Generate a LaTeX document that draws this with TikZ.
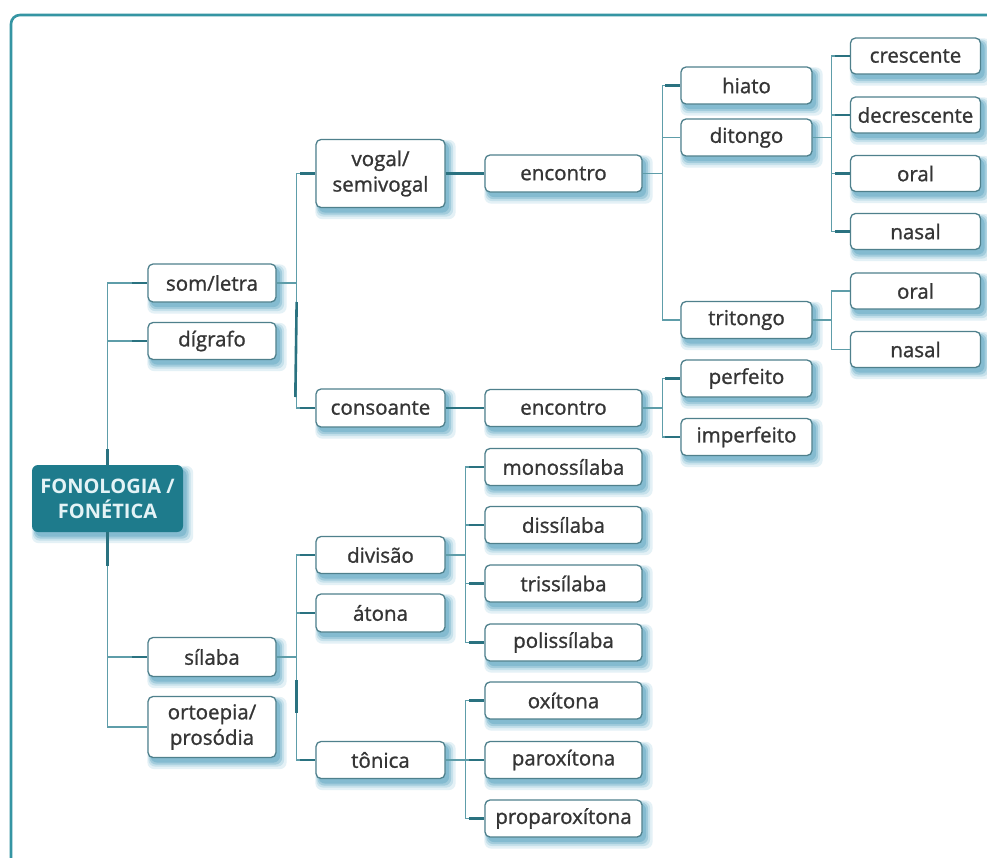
\documentclass[tikz,border=0pt]{standalone}
\usepackage{fontspec}
\setmainfont{Open Sans}
\newfontface\boxfont{Open Sans}[FakeBold=1.1]
\usetikzlibrary{backgrounds}
\definecolor{frameC}{HTML}{3595A3}
\definecolor{lineC}{HTML}{5E9DA9}
\definecolor{stubC}{HTML}{2A7280}
\definecolor{boxC}{HTML}{4F808C}
\definecolor{shA}{HTML}{E4F1F6}
\definecolor{shB}{HTML}{C6E1EB}
\definecolor{shD}{HTML}{A2CCDC}
\definecolor{shE}{HTML}{84BBD0}
\definecolor{txtC}{HTML}{353535}
\definecolor{rootC}{HTML}{1E7B8C}
\definecolor{rootT}{HTML}{E4F3F6}
\begin{document}
\begin{tikzpicture}[x=1pt,y=-1pt,
  box/.style={draw=boxC, line width=1.3pt, rounded corners=5pt, fill=white,
    inner sep=0pt, align=center, text=txtC,
    font=\boxfont\fontsize{20.5}{25.5}\selectfont},
  c1/.style={box, minimum width=128pt},
  c2/.style={box, minimum width=129pt},
  c3/.style={box, minimum width=157pt},
  c4/.style={box, minimum width=131pt},
  c5/.style={box, minimum width=130pt},
  h1/.style={minimum height=37pt},
  rootbox/.style={draw=none, rounded corners=6pt, fill=rootC,
    inner sep=0pt, align=center, text=rootT, minimum width=151pt, minimum height=67pt,
    font=\fontsize{20}{25}\selectfont\bfseries},
  conn/.style={draw=lineC, line width=1.5pt},
  stub/.style={draw=stubC, line width=2.6pt},
  shadowlayer/.style={rounded corners=7pt, draw=none},
  frame/.style={draw=frameC, line width=2.6pt, rounded corners=9pt}]
\useasboundingbox (0,0) rectangle (987,857);

% nodes
\node[rootbox] (fon) at (107.5,498.5) {FONOLOGIA /\\FONÉTICA};
\node[c1, minimum height=38pt] (som) at (212,283) {som/letra};
\node[c1, h1] (dig) at (212,341) {dígrafo};
\node[c1, minimum height=39pt] (sil) at (212,657) {sílaba};
\node[c1, minimum height=61pt] (ort) at (212,727) {ortoepia/\\prosódia};

\node[c2, minimum height=68pt] (vog) at (380.5,173.5) {vogal/\\semivogal};
\node[c2, minimum height=38pt] (con) at (380.5,408) {consoante};
\node[c2, h1] (div) at (380.5,555) {divisão};
\node[c2, minimum height=38pt] (ato) at (380.5,613) {átona};
\node[c2, h1] (ton) at (380.5,760) {tônica};

\node[c3, h1] (enca) at (563.5,173.5) {encontro};
\node[c3, h1] (encb) at (563.5,408) {encontro};
\node[c3, h1] (mono) at (563.5,467) {monossílaba};
\node[c3, h1] (diss) at (563.5,525) {dissílaba};
\node[c3, h1] (tris) at (563.5,583.5) {trissílaba};
\node[c3, h1] (poli) at (563.5,642.5) {polissílaba};
\node[c3, h1] (oxi) at (563.5,700.5) {oxítona};
\node[c3, h1] (par) at (563.5,760) {paroxítona};
\node[c3, h1] (pro) at (563.5,818.5) {proparoxítona};

\node[c4, h1] (hia) at (746.5,85.5) {hiato};
\node[c4, h1] (dit) at (746.5,137.5) {ditongo};
\node[c4, h1] (trit) at (746.5,320) {tritongo};
\node[c4, h1] (perf) at (746.5,378.5) {perfeito};
\node[c4, h1] (imp) at (746.5,437) {imperfeito};

\node[c5, minimum height=36pt] (cre) at (915.5,56) {crescente};
\node[c5, minimum height=36pt] (dec) at (915.5,115) {decrescente};
\node[c5, minimum height=36pt] (ora) at (915.5,173.5) {oral};
\node[c5, minimum height=36pt] (naa) at (915.5,231.5) {nasal};
\node[c5, minimum height=36pt] (orb) at (915.5,291) {oral};
\node[c5, minimum height=36pt] (nab) at (915.5,349.5) {nasal};

% soft blue shadows behind boxes, and the frame
\begin{pgfonlayer}{background}
  \clip (0,0) rectangle (987,857);
  \fill[white] (0,0) rectangle (987,857);
  \foreach \n in {fon,som,dig,sil,ort,vog,con,div,ato,ton,enca,encb,mono,diss,tris,poli,oxi,par,pro,hia,dit,trit,perf,imp,cre,dec,ora,naa,orb,nab}
    \fill[shadowlayer, shA] ([shift={(0,1)}]\n.north west) rectangle ([shift={(10,11)}]\n.south east);
  \foreach \n in {fon,som,dig,sil,ort,vog,con,div,ato,ton,enca,encb,mono,diss,tris,poli,oxi,par,pro,hia,dit,trit,perf,imp,cre,dec,ora,naa,orb,nab}
    \fill[shadowlayer, shB] ([shift={(1,2)}]\n.north west) rectangle ([shift={(7.5,8.5)}]\n.south east);
  \foreach \n in {fon,som,dig,sil,ort,vog,con,div,ato,ton,enca,encb,mono,diss,tris,poli,oxi,par,pro,hia,dit,trit,perf,imp,cre,dec,ora,naa,orb,nab}
    \fill[shadowlayer, shD] ([shift={(2,3)}]\n.north west) rectangle ([shift={(5.5,6.5)}]\n.south east);
  \foreach \n in {fon,som,dig,sil,ort,vog,con,div,ato,ton,enca,encb,mono,diss,tris,poli,oxi,par,pro,hia,dit,trit,perf,imp,cre,dec,ora,naa,orb,nab}
    \fill[shadowlayer, shE] ([shift={(3,4)}]\n.north west) rectangle ([shift={(3.5,4.5)}]\n.south east);
  \draw[frame] (11,900) -- (11,15) -- (1020,15);
\end{pgfonlayer}

% connectors
\draw[conn] (fon.north) |- (som.west);
\draw[conn] (fon.north) |- (dig.west);
\draw[conn] (fon.south) |- (sil.west);
\draw[conn] (fon.south) |- (ort.west);
\draw[stub] (fon.north) -- ++(0,-16);
\draw[stub] (fon.south) -- ++(0,34);

\draw[conn] (som.east) -- ++(20,0) |- (vog.west);
\draw[conn] (som.east) -- ++(20,0) |- (con.west);
\draw[stub] ([xshift=20pt,yshift=-19pt]som.east) -- ([xshift=-20pt,yshift=11pt]con.west);

\draw[conn] (sil.east) -- ++(20,0) |- (div.west);
\draw[conn] (sil.east) -- ++(20,0) |- (ato.west);
\draw[conn] (sil.east) -- ++(20,0) |- (ton.west);
\draw[stub] ([xshift=20pt,yshift=-23pt]sil.east) -- ([xshift=20pt,yshift=-56pt]sil.east);

\draw[stub] (vog.east) -- (enca.west);
\draw[stub] (con.east) -- (encb.west);

\foreach \n in {hia,dit,trit} \draw[conn] (enca.east) -- ++(20,0) |- (\n.west);
\foreach \n in {perf,imp} \draw[conn] (encb.east) -- ++(20,0) |- (\n.west);
\foreach \n in {cre,dec,ora,naa} \draw[conn] (dit.east) -- ++(19,0) |- (\n.west);
\foreach \n in {orb,nab} \draw[conn] (trit.east) -- ++(19,0) |- (\n.west);
\foreach \n in {mono,diss,tris,poli} \draw[conn] (div.east) -- ++(20,0) |- (\n.west);
\foreach \n in {oxi,par,pro} \draw[conn] (ton.east) -- ++(20,0) |- (\n.west);

% dark stubs at entry of children
\foreach \n in {som,dig,sil,vog,con,div,ato,ton,hia,perf,imp,cre,dec,ora,naa,mono,diss,tris,poli,oxi,par,pro}
  \draw[stub] ([xshift=-15pt]\n.west) -- (\n.west);
\end{tikzpicture}
\end{document}
